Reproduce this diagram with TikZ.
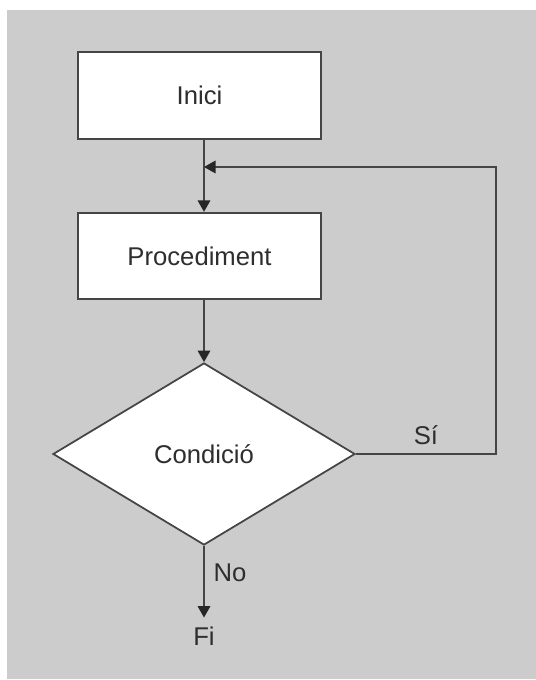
\documentclass[tikz,border=0pt]{standalone}
\usepackage{fontspec}
\setmainfont{Liberation Sans}
\usetikzlibrary{positioning,arrows.meta,shapes.geometric,calc}
\definecolor{panelgray}{HTML}{CCCCCC}
\definecolor{linegray}{HTML}{454545}
\definecolor{txtgray}{HTML}{2E2E2E}

\begin{document}
\begin{tikzpicture}[
  procbox/.style={draw=linegray, line width=1pt, fill=white, minimum width=4.86cm, minimum height=1.73cm, font=\fontsize{14.6}{17}\selectfont, text=txtgray},
  decision/.style={diamond, draw=linegray, line width=1pt, fill=white, inner sep=0pt, minimum width=6.04cm, minimum height=3.64cm, font=\fontsize{14.6}{17}\selectfont, text=txtgray},
  flow/.style={draw=linegray, line width=1pt, -{Triangle[width=0.25cm, length=0.23cm, color=black!85]}},
  lbl/.style={font=\fontsize{14.6}{17}\selectfont, text=txtgray, inner sep=5pt}
]
\useasboundingbox (0,0) rectangle (10.72,-13.6);
\fill[panelgray] (0.14,-0.2) rectangle (10.72,-13.58);

\node[procbox] (inici) at (3.99,-1.91) {Inici};
\node[procbox] (proc) at (3.99,-5.12) {Procediment};
\node[decision] (cond) at (4.08,-9.08) {Condició};
\node[lbl] (fi) at (4.08,-12.72) {Fi};
\coordinate (ret) at (9.92,-3.34);

\draw[flow] (inici.south -| cond.north) -- (proc.north -| cond.north);
\draw[flow] (proc.south -| cond.north) -- (cond.north);
\draw[flow] (cond.east) -- node[lbl, above]{Sí} (cond.east -| ret) -- (ret) -- (ret -| cond.north);
\draw[flow] (cond.south) -- node[lbl, right, pos=0.38]{No} (fi.north);
\end{tikzpicture}
\end{document}
